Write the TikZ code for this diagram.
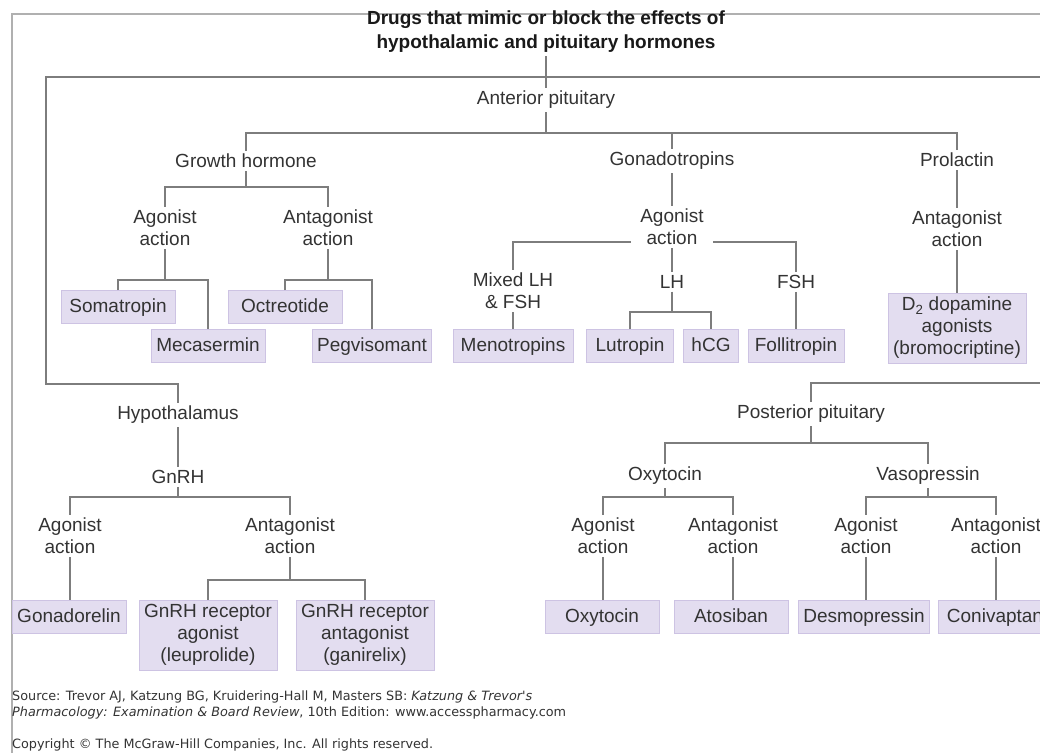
\documentclass[tikz,border=0pt]{standalone}
\usepackage{fontspec}
\setmainfont{Liberation Sans}
\newfontfamily\srcfont{DejaVu Sans}
\usetikzlibrary{positioning}

\definecolor{linec}{HTML}{7D7D7D}
\definecolor{framec}{HTML}{B0B0B0}
\definecolor{boxfill}{HTML}{E3DDF0}
\definecolor{boxline}{HTML}{CDC3E3}
\definecolor{txt}{HTML}{333333}

\begin{document}
\begin{tikzpicture}[
  x=1pt, y=-1pt,
  font=\fontsize{19}{22}\selectfont,
  title/.style={align=center, font=\bfseries\fontsize{19}{24}\selectfont, text=black!90},
  lbl/.style={align=center, text=txt, inner sep=3pt},
  drugbox/.style={draw=boxline, fill=boxfill, text=txt, align=center, line width=1pt,
    minimum width=114pt, minimum height=33pt, inner xsep=5pt, inner ysep=2pt},
  drug/.style={drugbox, text height=14pt, text depth=4pt},
  drugtall/.style={drugbox, minimum width=138pt, minimum height=70pt},
  link/.style={draw=linec, line width=1.6pt},
  frame/.style={draw=framec, line width=1.4pt},
  src/.style={align=left, anchor=west, text=txt, inner sep=0pt,
    font=\srcfont\fontsize{12.8}{16}\selectfont}
]
\useasboundingbox (0,0) rectangle (1040,752);
\clip (0,0) rectangle (1040,752);

% outer frame
\draw[frame] (12,770) -- (12,14) -- (1050,14);

\node[title] (ttl) at (546,32)
  {Drugs that mimic or block the effects of\\hypothalamic and pituitary hormones};

% anterior pituitary
\node[lbl] (ap) at (546,100) {Anterior pituitary};
\node[lbl] (gh) at (246,161) {Growth hormone};
\node[lbl] (gon) at (672,161) {Gonadotropins};
\node[lbl] (prl) at (957,160) {Prolactin};

\node[lbl] (ghag) at (165,228) {Agonist\\action};
\node[lbl] (ghan) at (328,228) {Antagonist\\action};
\node[lbl, fill=white] (gonag) at (672,227) {Agonist\\action};
\node[lbl] (prlan) at (957,229) {Antagonist\\action};

\node[lbl] (mix) at (513,291) {Mixed LH\\\& FSH};
\node[lbl] (lh) at (672,282) {LH};
\node[lbl] (fsh) at (796,282) {FSH};

\node[drug] (soma) at (118,307) {Somatropin};
\node[drug] (meca) at (208,346) {Mecasermin};
\node[drug] (octr) at (285,307) {Octreotide};
\node[drug, minimum width=119pt] (pegv) at (372,346) {Pegvisomant};
\node[drug, minimum width=120pt] (meno) at (513,346) {Menotropins};
\node[drug, minimum width=87pt] (lutr) at (630,346) {Lutropin};
\node[drug, minimum width=55pt] (hcg) at (711,346) {hCG};
\node[drug, minimum width=96pt] (foll) at (796,346) {Follitropin};
\node[drugtall] (dopa) at (957,328)
  {D\textsubscript{2} dopamine\\agonists\\(bromocriptine)};

% hypothalamus
\node[lbl] (hyp) at (178,415) {Hypothalamus};
\node[lbl] (gnrh) at (178,477) {GnRH};
\node[lbl] (gnag) at (70,536) {Agonist\\action};
\node[lbl] (gnan) at (290,536) {Antagonist\\action};
\node[drug] (gona) at (69,617) {Gonadorelin};
\node[drugtall] (leup) at (208,635) {GnRH receptor\\agonist\\(leuprolide)};
\node[drugtall] (gani) at (365,635) {GnRH receptor\\antagonist\\(ganirelix)};

% posterior pituitary
\node[lbl] (pp) at (811,414) {Posterior pituitary};
\node[lbl] (oxy) at (665,476) {Oxytocin};
\node[lbl] (vaso) at (928,476) {Vasopressin};
\node[lbl] (oxag) at (603,536) {Agonist\\action};
\node[lbl] (oxan) at (733,536) {Antagonist\\action};
\node[lbl] (vaag) at (866,536) {Agonist\\action};
\node[lbl] (vaan) at (996,536) {Antagonist\\action};
\node[drug] (oxyd) at (602,617) {Oxytocin};
\node[drug] (atos) at (731,617) {Atosiban};
\node[drug, minimum width=129pt] (desm) at (864,617) {Desmopressin};
\node[drug] (coni) at (995,617) {Conivaptan};

% source
\node[src] (srcnote) at (12,705)
  {Source: Trevor AJ, Katzung BG, Kruidering-Hall M, Masters SB: \textit{Katzung \& Trevor's}\\
   \textit{Pharmacology: Examination \& Board Review}, 10th Edition: www.accesspharmacy.com};
\node[src] (copy) at (12,745) {Copyright \textcopyright\ The McGraw-Hill Companies, Inc. All rights reserved.};

% main trunk
\coordinate (rtop) at (1050,77);
\coordinate (ltop) at (46,77);
\coordinate (lbend) at (46,384);
\coordinate (rlow) at (1050,383);
\draw[link] (ttl.south) -- (ap.north);
\draw[link] (rtop) -- (ltop) -- (lbend) -| (hyp.north);
\draw[link] (rlow) -| (pp.north);

% anterior branches
\draw[link] (ap.south) -- (ap.south |- 0,133);
\draw[link] (gh.north) |- (prl.north |- 0,133) -- (prl.north);
\draw[link] (gon.north) -- (gon.north |- 0,133);

\draw[link] (gh.south) -- (gh.south |- 0,187);
\draw[link] (ghag.north) |- (ghan.north |- 0,187) -- (ghan.north);
\draw[link] (ghag.south) -- (ghag.south |- 0,280);
\draw[link] (soma.north) |- (meca.north |- 0,280) -- (meca.north);
\draw[link] (ghan.south) -- (ghan.south |- 0,280);
\draw[link] (octr.north) |- (pegv.north |- 0,280) -- (pegv.north);

\draw[link] (gon.south) -- (gonag.north);
\draw[link] (mix.north) |- ([xshift=-6pt]gonag.west |- 0,242);
\draw[link] (fsh.north) |- ([xshift=6pt]gonag.east |- 0,242);
\draw[link] (gonag.south) -- (lh.north);
\draw[link] (mix.south) -- (meno.north);
\draw[link] (lh.south) -- (lh.south |- 0,312);
\draw[link] (lutr.north) |- (hcg.north |- 0,312) -- (hcg.north);
\draw[link] (fsh.south) -- (foll.north);

\draw[link] (prl.south) -- (prlan.north);
\draw[link] (prlan.south) -- (dopa.north);

% hypothalamus branches
\draw[link] (hyp.south) -- (gnrh.north);
\draw[link] (gnrh.south) -- (gnrh.south |- 0,497);
\draw[link] (gnag.north) |- (gnan.north |- 0,497) -- (gnan.north);
\draw[link] (gnag.south) -- (gnag.south |- gona.north);
\draw[link] (gnan.south) -- (gnan.south |- 0,580);
\draw[link] (leup.north) |- (gani.north |- 0,580) -- (gani.north);

% posterior branches
\draw[link] (pp.south) -- (pp.south |- 0,443);
\draw[link] (oxy.north) |- (vaso.north |- 0,443) -- (vaso.north);
\draw[link] (oxy.south) -- (oxy.south |- 0,497);
\draw[link] (oxag.north) |- (oxan.north |- 0,497) -- (oxan.north);
\draw[link] (vaso.south) -- (vaso.south |- 0,497);
\draw[link] (vaag.north) |- (vaan.north |- 0,497) -- (vaan.north);
\draw[link] (oxag.south) -- (oxag.south |- oxyd.north);
\draw[link] (oxan.south) -- (oxan.south |- atos.north);
\draw[link] (vaag.south) -- (vaag.south |- desm.north);
\draw[link] (vaan.south) -- (vaan.south |- coni.north);

\end{tikzpicture}
\end{document}
